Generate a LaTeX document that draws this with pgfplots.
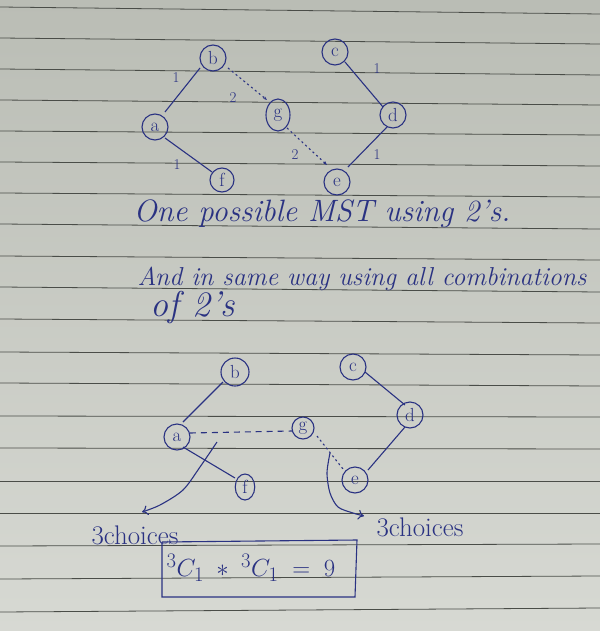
\documentclass[border=0pt]{standalone}
\usepackage{pgfplots}
\pgfplotsset{compat=1.18}
\usetikzlibrary{arrows.meta}
\definecolor{ink}{HTML}{2A3282}
\definecolor{papertop}{HTML}{BABDB5}
\definecolor{paperbot}{HTML}{D7D9D3}
\definecolor{rule}{HTML}{4A4D48}
\pgfplotsset{
  txt/.style={draw=none, mark=none, nodes near coords, point meta=explicit symbolic,
    nodes near coords style={anchor=center, text=ink, font=#1, inner sep=0pt}},
  edge/.style={ink, line width=1.1pt, mark=none},
  dedge/.style={ink, line width=1.1pt, mark=none, dash pattern=on 2pt off 3pt},
  vtx/.style={only marks, mark=o, mark size=#1, mark options={draw=ink, line width=1.1pt}},
}
\begin{document}
\begin{tikzpicture}
\begin{axis}[
  scale only axis, width=600bp, height=631bp,
  xmin=0, xmax=600, ymin=0, ymax=631, y dir=reverse,
  axis line style={draw=none}, ticks=none,
  axis background/.style={top color=papertop, bottom color=paperbot},
]
% ruled lines
\addplot[rule, line width=0.8pt] coordinates {(0,7)(600,14)};
\addplot[rule, line width=0.8pt] coordinates {(0,38)(600,44)};
\addplot[rule, line width=0.8pt] coordinates {(0,69)(600,75)};
\addplot[rule, line width=0.8pt] coordinates {(0,100)(600,105)};
\addplot[rule, line width=0.8pt] coordinates {(0,131)(600,135)};
\addplot[rule, line width=0.8pt] coordinates {(0,162)(600,166)};
\addplot[rule, line width=0.8pt] coordinates {(0,193)(600,197)};
\addplot[rule, line width=0.8pt] coordinates {(0,224)(600,229)};
\addplot[rule, line width=0.8pt] coordinates {(0,256)(600,260)};
\addplot[rule, line width=0.8pt] coordinates {(0,287)(600,292)};
\addplot[rule, line width=0.8pt] coordinates {(0,319)(600,323)};
\addplot[rule, line width=0.8pt] coordinates {(0,352)(600,355)};
\addplot[rule, line width=0.8pt] coordinates {(0,383)(600,386)};
\addplot[rule, line width=0.8pt] coordinates {(0,416)(600,417)};
\addplot[rule, line width=0.8pt] coordinates {(0,448)(600,449)};
\addplot[rule, line width=0.8pt] coordinates {(0,481)(600,481)};
\addplot[rule, line width=0.8pt] coordinates {(0,513)(600,513)};
\addplot[rule, line width=0.8pt] coordinates {(0,546)(600,544)};
\addplot[rule, line width=0.8pt] coordinates {(0,579)(600,576)};
\addplot[rule, line width=0.8pt] coordinates {(0,612)(600,608)};

% ---- top graph ----
\addplot[edge] coordinates {(200,68)(165,112)};
\addplot[edge] coordinates {(165,138)(212,172)};
\addplot[dedge, -{Stealth[length=4pt]}] coordinates {(228,68)(267,100)};
\addplot[dedge, -{Stealth[length=4pt]}] coordinates {(287,128)(327,165)};
\addplot[edge] coordinates {(345,62)(383,107)};
\addplot[edge] coordinates {(387,127)(348,167)};
\addplot[vtx=13bp] coordinates {(213,58)(155,127)(335,52)(393,115)(337,182)};
\addplot[vtx=12bp] coordinates {(222,180)};
\addplot[vtx=16bp, mark options={draw=ink, line width=1.1pt, xscale=0.75}] coordinates {(278,115)};
\addplot[txt=\fontsize{19}{19}\selectfont] coordinates {
 (213,58)[b] (155,127)[a] (222,180)[f] (278,115)[g] (335,52)[c] (393,115)[d] (337,182)[e]};
\addplot[txt=\fontsize{15}{15}\selectfont] coordinates {
 (176,78)[1] (233,98)[2] (177,165)[1] (295,155)[2] (377,69)[1] (377,155)[1]};

% ---- text ----
\addplot[txt=\itshape\fontsize{31}{31}\selectfont] coordinates {(322,214)[One possible MST using 2's.]};
\addplot[txt=\itshape\fontsize{26}{26}\selectfont] coordinates {(362,279)[And in same way using all combinations]};
\addplot[txt=\itshape\fontsize{36}{36}\selectfont] coordinates {(193,308)[of 2's]};

% ---- bottom graph ----
\addplot[edge] coordinates {(223,382)(183,422)};
\addplot[edge] coordinates {(183,447)(235,478)};
\addplot[edge] coordinates {(365,372)(405,405)};
\addplot[edge] coordinates {(405,427)(368,470)};
\addplot[ink, line width=1.1pt, mark=none, dash pattern=on 6pt off 5pt] coordinates {(190,433)(292,431)};
\addplot[dedge] coordinates {(317,436)(343,469)};
\addplot[vtx=14bp] coordinates {(235,372)};
\addplot[vtx=13bp] coordinates {(353,367)(410,415)(177,437)(355,480)};
\addplot[vtx=11bp] coordinates {(303,428)};
\addplot[vtx=13bp, mark options={draw=ink, line width=1.1pt, xscale=0.75}] coordinates {(245,487)};
\addplot[txt=\fontsize{19}{19}\selectfont] coordinates {
 (235,372)[b] (353,367)[c] (410,415)[d] (177,437)[a] (303,428)[g] (245,487)[f] (355,480)[e]};

% curved arrows
\addplot[edge, smooth, -{To[length=6pt,width=10pt]}] coordinates {(217,442)(200,467)(183,490)(160,505)(142,512)};
\addplot[edge, smooth, -{To[length=6pt,width=10pt]}] coordinates {(330,453)(327,473)(330,493)(338,507)(353,513)(364,516)};
\addplot[txt=\fontsize{27}{27}\selectfont] coordinates {(135,535)[3choices] (420,527)[3choices]};

% box with formula
\addplot[edge] coordinates {(162,542)(357,540)(355,597)(162,597)(162,542)};
\addplot[txt=\fontsize{29}{29}\selectfont] coordinates {(251,568)[${}^3C_1 \;\ast\; {}^3C_1 \;=\; 9$]};
\end{axis}
\end{tikzpicture}
\end{document}
